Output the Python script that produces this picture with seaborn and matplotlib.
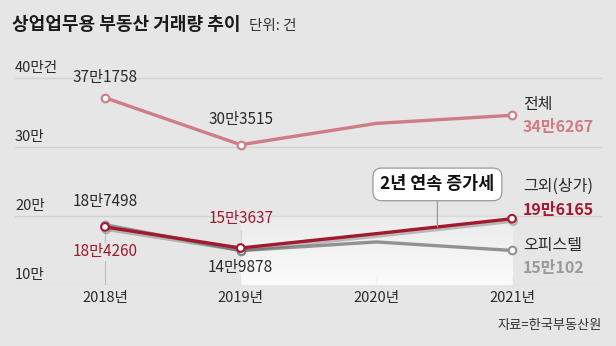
import numpy as np
import pandas as pd
import matplotlib
matplotlib.use("Agg")
import matplotlib.pyplot as plt
import matplotlib.patheffects as pe
import seaborn as sns

# ---- data (unit: 만 = 10,000 건) ----
years = ["2018년", "2019년", "2020년", "2021년"]
total = [37.1758, 30.3515, 33.45, 34.6267]        # 전체
retail = [18.4260, 15.3637, 17.45, 19.6165]       # 그외(상가)
officetel = [18.7498, 14.9878, 16.25, 15.0102]    # 오피스텔
ytick_vals = [10, 20, 30, 40]
ytick_labels = ["10만", "20만", "30만", "40만건"]

total_labels = ["37만1758", "30만3515"]
retail_labels = ["18만4260", "15만3637"]
officetel_labels = ["18만7498", "14만9878"]
end_names = ["전체", "그외(상가)", "오피스텔"]
end_values = ["34만6267", "19만6165", "15만102"]

BG = "#e6e6e6"
C_TOTAL = "#d07c87"
C_RETAIL = "#a3192f"
C_OFF = "#929292"
C_OFF_TXT = "#9a9a9a"
TXT = "#2b2b2b"

sns.set_style("white")
plt.rcParams["font.family"] = ["Noto Sans CJK KR", "DejaVu Sans"]

W, H = 616, 346
fig = plt.figure(figsize=(W / 100, H / 100), dpi=100, facecolor=BG)
ax = fig.add_axes([15 / W, (H - 285) / H, (602 - 15) / W, (285 - 60) / H])
ax.set_facecolor(BG)

x = np.arange(len(years))
df = pd.DataFrame({"x": np.tile(x, 3),
                   "v": total + retail + officetel,
                   "s": ["전체"] * 4 + ["그외"] * 4 + ["오피스텔"] * 4})

# gradient highlight (2019-2021, below 20만)
grad = np.ones((100, 1, 4))
grad[:, 0, 3] = np.linspace(0.85, 0.2, 100)
ax.imshow(grad, extent=[1, 3, 10, 20], aspect="auto", origin="lower", zorder=1)

# grid lines
for v in ytick_vals:
    ax.axhline(v, color="#d2d2d2", lw=1.0, zorder=0.5)

# vertical guides
ax.vlines([0, 1, 1, 2, 3], [10, 15.4, 10, 10, 10], [18.3, 18.0, 11.1, 11.1, 11.1],
          color="#bdbdbd", lw=0.8, zorder=0.8)

kw = dict(x="x", y="v", marker="o", markersize=5.5, markerfacecolor="white",
          markeredgewidth=1.5, markevery=[0, 1, 3], linewidth=2.4, legend=False, ax=ax)
sns.lineplot(data=df[df.s == "오피스텔"], color=C_OFF, markeredgecolor=C_OFF, zorder=3, **kw)
sns.lineplot(data=df[df.s == "그외"], color=C_RETAIL, markeredgecolor=C_RETAIL, zorder=4, **kw)
ax.lines[-1].set_path_effects([pe.SimpleLineShadow(offset=(0.8, -1.8), shadow_color="#555555", alpha=0.35),
                               pe.Normal()])
sns.lineplot(data=df[df.s == "전체"], color=C_TOTAL, markeredgecolor=C_TOTAL, zorder=4, **kw)

ax.set_xlim(-0.663, 3.663)
ax.set_ylim(10, 42.65)
ax.set_xticks([])
ax.set_yticks([])
ax.set_xlabel("")
ax.set_ylabel("")
for s in ax.spines.values():
    s.set_visible(False)

# y tick labels (above grid lines, left aligned)
for v, t in zip(ytick_vals, ytick_labels):
    ax.annotate(t, xy=(0, v), xycoords=("axes fraction", "data"), xytext=(0, 10),
                textcoords="offset pixels", ha="left", va="center", fontsize=10.5, color=TXT)

# x labels
for xi, t in zip(x, years):
    ax.annotate(t, xy=(xi, 10), xytext=(0, -13), textcoords="offset pixels",
                ha="center", va="center", fontsize=10.5, color=TXT)

lab = dict(textcoords="offset pixels", ha="center", va="center", fontsize=11)
bb = dict(boxstyle="square,pad=0.05", fc=BG, ec="none")
# 전체 labels
ax.annotate(total_labels[0], xy=(0, total[0]), xytext=(0, 20), color=TXT, **lab)
ax.annotate(total_labels[1], xy=(1, total[1]), xytext=(0, 25), color=TXT, **lab)
# 오피스텔
ax.annotate(officetel_labels[0], xy=(0, officetel[0]), xytext=(0, 23), color=TXT, **lab)
ax.annotate(officetel_labels[1], xy=(1, officetel[1]), xytext=(0, -17), color=TXT, zorder=5, **lab)
# 그외
ax.annotate(retail_labels[0], xy=(0, retail[0]), xytext=(0, -25), color=C_RETAIL, bbox=bb, zorder=5, **lab)
ax.annotate(retail_labels[1], xy=(1, retail[1]), xytext=(0, 30), color=C_RETAIL, zorder=5, **lab)

# end labels
rl = dict(textcoords="offset pixels", ha="left", va="center", fontsize=11.5)
ax.annotate(end_names[0], xy=(3, total[3]), xytext=(11, 11), color=TXT, **rl)
ax.annotate(end_values[0], xy=(3, total[3]), xytext=(11, -12), color=C_TOTAL, fontweight="bold", **rl)
ax.annotate(end_names[1], xy=(3, retail[3]), xytext=(11, 32), color=TXT, **rl)
ax.annotate(end_values[1], xy=(3, retail[3]), xytext=(11, 9), color=C_RETAIL, fontweight="bold", **rl)
ax.annotate(end_names[2], xy=(3, officetel[3]), xytext=(11, 5), color=TXT, **rl)
ax.annotate(end_values[2], xy=(3, officetel[3]), xytext=(11, -18), color=C_OFF_TXT, fontweight="bold", **rl)

# callout
px = 2.45
py = retail[2] + (retail[3] - retail[2]) * (px - 2)
ax.annotate("2년 연속 증가세", xy=(px, py), xytext=(px, 24.6), textcoords="data",
            ha="center", va="center", fontsize=12.5, fontweight="bold", color="#111111",
            bbox=dict(boxstyle="round,pad=0.42,rounding_size=0.5", fc="white", ec="#9a9a9a", lw=0.9),
            arrowprops=dict(arrowstyle="-", color="#9a9a9a", lw=0.9, shrinkA=0, shrinkB=0),
            zorder=6)

# title
fig.text(12 / W, 1 - 25 / H, "상업업무용 부동산 거래량 추이", fontsize=13, fontweight="bold",
         color="#1a1a1a", ha="left", va="center")
fig.text(249 / W, 1 - 26 / H, "단위: 건", fontsize=10.5, color="#333333", ha="left", va="center")
fig.text(602 / W, 1 - 325 / H, "자료=한국부동산원", fontsize=9.5, color="#333333", ha="right", va="center")

fig.savefig("out.png", dpi=100, facecolor=BG)
